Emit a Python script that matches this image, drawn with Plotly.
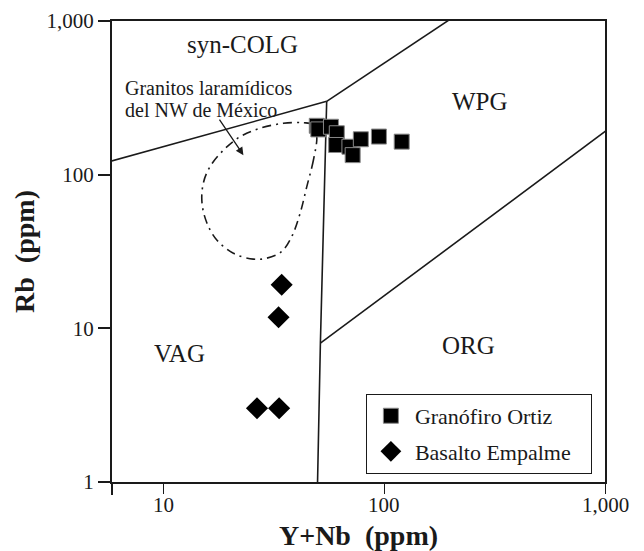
import math
import plotly.graph_objects as go

# ---------------- data ----------------
# Granófiro Ortiz (squares)
gran_x = [49.6, 50.4, 57.5, 61.1, 60.7, 69.7, 72.1, 78.5, 94.8, 120.2]
gran_y = [208, 197, 205, 186, 156, 152, 134, 170, 177, 164]

# Basalto Empalme (diamonds)
bas_x = [34.4, 33.3, 26.6, 33.5]
bas_y = [19.2, 11.8, 3.02, 3.02]

# Field of Laramide granites of NW Mexico (dash-dot outline)
lar_x = [49.6, 47.9, 44.7, 41.7, 38.2, 34.4, 29.4, 25.6, 20.8, 17.5, 15.8, 15.0,
         15.2, 16.3, 18.8, 22.3, 27.5, 35.0, 43.2, 47.9, 49.6]
lar_y = [176.6, 124.6, 83.6, 56.1, 39.5, 31.6, 28.6, 28.2, 30.8, 37.6, 48.3, 65.2,
         87.9, 112.7, 144.9, 176.6, 200.5, 215.8, 217.9, 210.6, 176.6]

# Pearce et al. (1984) discrimination boundaries
b1_x = [2, 55]            # VAG / syn-COLG
b1_y = [80, 300]
b2_x = [55, 400]          # syn-COLG / WPG
b2_y = [300, 2000]
b3_x = [55, 51.5, 50]     # VAG / WPG+ORG
b3_y = [300, 8, 1]
b4_x = [51.5, 2000]       # WPG / ORG
b4_y = [8, 400]

# field labels
field_names = ["syn-COLG", "WPG", "VAG", "ORG"]
field_x = [22.9, 271.7, 11.9, 239.9]
field_y = [700, 300, 6.9, 7.7]

note_lines = ["Granitos laramídicos", "del NW de México"]
note_x = [6.57, 6.57]
note_y = [365, 264]

x_tickvals = [10, 100, 1000]
x_ticktext = ["10", "100", "1,000"]
y_tickvals = [1, 10, 100, 1000]
y_ticktext = ["1", "10", "100", "1,000"]

FONT = "Liberation Serif"
INK = "#1a1a1a"

fig = go.Figure()

for bx, by in [(b1_x, b1_y), (b2_x, b2_y), (b3_x, b3_y), (b4_x, b4_y)]:
    fig.add_trace(go.Scatter(x=bx, y=by, mode="lines",
                             line=dict(color=INK, width=1.6),
                             showlegend=False, hoverinfo="skip"))

fig.add_trace(go.Scatter(x=lar_x, y=lar_y, mode="lines",
                         line=dict(color=INK, width=1.6, shape="spline",
                                   dash="9px,5px,2px,5px"),
                         showlegend=False, hoverinfo="skip"))

fig.add_trace(go.Scatter(x=gran_x, y=gran_y, mode="markers",
                         name="Granófiro Ortiz\u00a0\u00a0\u00a0\u00a0\u00a0\u00a0",
                         legendgroup="g1",
                         marker=dict(symbol="square", size=15, color="black",
                                     line=dict(color="#888888", width=1))))
fig.add_trace(go.Scatter(x=bas_x, y=bas_y, mode="markers", name="Basalto Empalme",
                         legendgroup="g2",
                         marker=dict(symbol="diamond", size=17, color="black",
                                     line=dict(color="black", width=0))))

annotations = []
for name, fx, fy in zip(field_names, field_x, field_y):
    annotations.append(dict(x=math.log10(fx), y=math.log10(fy), xref="x", yref="y",
                            text=name, showarrow=False,
                            font=dict(family=FONT, size=25, color=INK)))

for t, nx, ny in zip(note_lines, note_x, note_y):
    annotations.append(dict(x=math.log10(nx), y=math.log10(ny), xref="x", yref="y",
                            text=t, showarrow=False,
                            xanchor="left", yanchor="middle", align="left",
                            font=dict(family=FONT, size=20, color=INK)))
annotations.append(dict(x=math.log10(23.1), y=math.log10(134), xref="x", yref="y",
                        ax=-25, ay=-37, text="", showarrow=True,
                        arrowhead=2, arrowsize=1.2, arrowwidth=1.3, arrowcolor=INK))

# x tick labels as text placed under the tick marks
for v, t in zip(x_tickvals, x_ticktext):
    annotations.append(dict(x=math.log10(v), y=-0.05, xref="x", yref="paper",
                            text=t, showarrow=False, xanchor="center", yanchor="middle",
                            font=dict(family=FONT, size=21, color=INK)))

fig.update_layout(
    width=644, height=551,
    margin=dict(l=112, r=39, t=21, b=69),
    plot_bgcolor="white", paper_bgcolor="white",
    font=dict(family=FONT, color=INK),
    annotations=annotations,
    showlegend=True,
    legend=dict(x=0.515, y=0.191, xanchor="left", yanchor="top",
                bordercolor=INK, borderwidth=1, bgcolor="white",
                font=dict(family=FONT, size=22, color=INK),
                tracegroupgap=4, itemwidth=38),
    shapes=[dict(type="line", xref="paper", yref="paper", x0=0, x1=0,
                 y0=0, y1=-13 / 461, line=dict(color=INK, width=2))],
)

fig.update_xaxes(type="log", range=[math.log10(5.87), 3], automargin=False,
                 tickvals=x_tickvals, showticklabels=False,
                 ticks="outside", ticklen=10, tickwidth=1, tickcolor=INK,
                 showline=True, linewidth=2, linecolor=INK, mirror=True,
                 showgrid=False, zeroline=False,
                 title=dict(text="<b>Y+Nb\u00a0 (ppm)</b>", standoff=32,
                            font=dict(family=FONT, size=28, color=INK)))
fig.update_yaxes(type="log", range=[0, 3], automargin=False,
                 tickvals=y_tickvals, ticktext=y_ticktext,
                 ticks="outside", ticklen=12, tickwidth=2, tickcolor=INK,
                 showline=True, linewidth=2, linecolor=INK, mirror=True,
                 showgrid=False, zeroline=False,
                 tickfont=dict(family=FONT, size=21, color=INK),
                 title=dict(text="<b>Rb\u00a0 (ppm)</b>", standoff=4,
                            font=dict(family=FONT, size=28, color=INK)))

fig.write_html("out.html")
